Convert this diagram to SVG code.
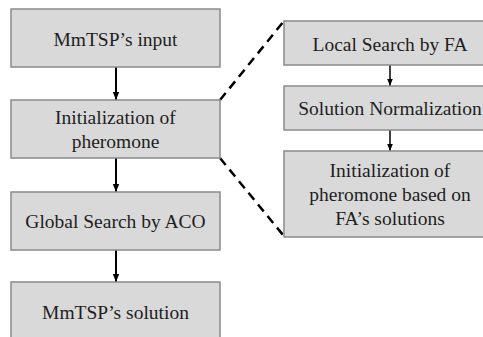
<svg xmlns="http://www.w3.org/2000/svg" width="483" height="337" viewBox="0 0 483 337">
  <defs>
    <style>
      .box{fill:#d9d9d9;stroke:#8a8a8a;stroke-width:1.5}
      .t{font-family:'Liberation Serif','Times New Roman',serif;font-size:19.5px;fill:#1e1e1e;text-anchor:middle}
      .arr{stroke:#000;stroke-width:2;fill:none}
      .arr2{stroke:#000;stroke-width:1.5;fill:none}
      .dash{stroke:#000;stroke-width:2.5;stroke-dasharray:9 6;fill:none}
    </style>
    <marker id="ah" viewBox="0 0 10 10" refX="10" refY="5" markerWidth="4" markerHeight="4" markerUnits="strokeWidth" orient="auto">
      <path d="M0,1 L10,5 L0,9 Z" fill="#000"/>
    </marker>
    <marker id="ah2" viewBox="0 0 10 10" refX="10" refY="5" markerWidth="5" markerHeight="5" markerUnits="strokeWidth" orient="auto">
      <path d="M0,1 L10,5 L0,9 Z" fill="#000"/>
    </marker>
  </defs>
  <rect width="483" height="337" fill="#fff"/>
  <g id="connectors">
    <line class="arr" x1="116" y1="67" x2="116" y2="100" marker-end="url(#ah)"/>
    <line class="arr" x1="116" y1="158" x2="116" y2="192" marker-end="url(#ah)"/>
    <line class="arr" x1="116" y1="250" x2="116" y2="282" marker-end="url(#ah)"/>
    <line class="arr2" x1="390" y1="65" x2="390" y2="86" marker-end="url(#ah2)"/>
    <line class="arr2" x1="390" y1="130" x2="390" y2="151" marker-end="url(#ah2)"/>
    <line class="dash" x1="220" y1="100" x2="284" y2="21"/>
    <line class="dash" x1="220" y1="158" x2="283" y2="235"/>
  </g>
  <g id="n1">
    <rect class="box" x="11" y="9" width="209" height="58"/>
    <text class="t" x="115.5" y="45.5">MmTSP’s input</text>
  </g>
  <g id="n2">
    <rect class="box" x="11" y="100" width="209" height="58"/>
    <text class="t" x="115.5" y="124">Initialization of</text>
    <text class="t" x="115.5" y="148">pheromone</text>
  </g>
  <g id="n3">
    <rect class="box" x="11" y="192" width="209" height="58"/>
    <text class="t" x="115.5" y="228">Global Search by ACO</text>
  </g>
  <g id="n4">
    <rect class="box" x="11" y="282" width="209" height="60"/>
    <text class="t" x="115.5" y="319">MmTSP’s solution</text>
  </g>
  <g id="r1">
    <rect class="box" x="284" y="21" width="212" height="44"/>
    <text class="t" x="390" y="50.5">Local Search by FA</text>
  </g>
  <g id="r2">
    <rect class="box" x="284" y="86" width="212" height="44"/>
    <text class="t" x="390" y="115">Solution Normalization</text>
  </g>
  <g id="r3">
    <rect class="box" x="284" y="151" width="212" height="86"/>
    <text class="t" x="390" y="177">Initialization of</text>
    <text class="t" x="390" y="201">pheromone based on</text>
    <text class="t" x="390" y="225">FA’s solutions</text>
  </g>
</svg>
